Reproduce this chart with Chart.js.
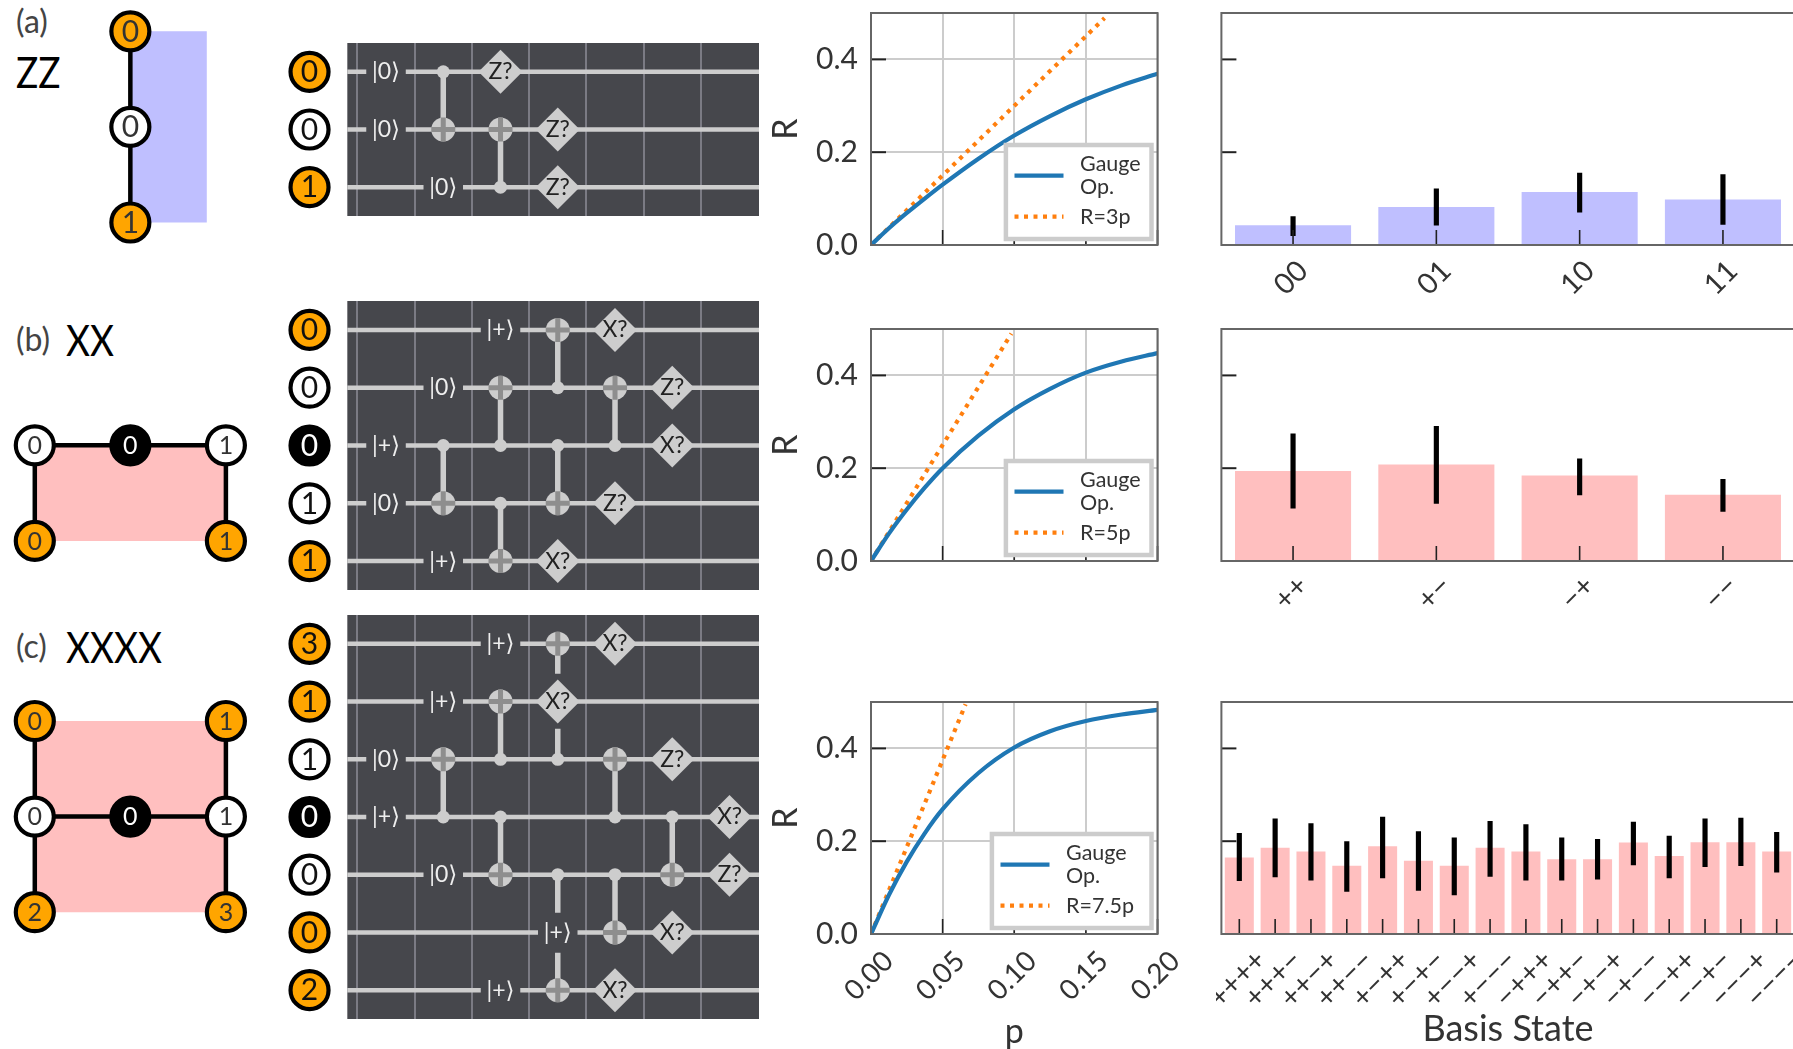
<!DOCTYPE html>
<html>
<head>
<meta charset="utf-8">
<script src="https://cdn.jsdelivr.net/npm/chart.js@4"></script>
<style>
  html, body { margin: 0; background: #fff; overflow: hidden; width: 1793px; height: 1049px; }
  canvas { position: absolute; }
  .tag { position: absolute; font-family: Lato, "DejaVu Sans", sans-serif; white-space: nowrap; line-height: 1; transform-origin: left top; }
  .tag.small { font-size: 32px; color: #444; }
  .tag.big { font-size: 42px; color: #000; transform: scaleX(0.88); }
</style>
</head>
<body>
<div class="tag small" style="left:16px;top:5px">(a)</div>
<div class="tag big" style="left:16px;top:51px">ZZ</div>
<div class="tag small" style="left:16px;top:323px">(b)</div>
<div class="tag big" style="left:66px;top:319px">XX</div>
<div class="tag small" style="left:16px;top:630px">(c)</div>
<div class="tag big" style="left:66px;top:626px">XXXX</div>
<script>
// ---- R versus p curves
const pSamples = [0, 0.0125, 0.025, 0.0375, 0.05, 0.075, 0.1, 0.125, 0.15, 0.175, 0.2];
const zzGauge = [0, 0.036, 0.069, 0.1, 0.13, 0.186, 0.236, 0.278, 0.314, 0.344, 0.369];
const xxGauge = [0, 0.059, 0.111, 0.158, 0.2, 0.27, 0.327, 0.371, 0.406, 0.43, 0.448];
const xxxxGauge = [0, 0.084, 0.156, 0.217, 0.269, 0.347, 0.402, 0.437, 0.459, 0.473, 0.483];
const zzLineP = [0, 0.163];
const zzLineR = [0, 0.489];
const xxLineP = [0, 0.098];
const xxLineR = [0, 0.49];
const xxxxLineP = [0, 0.066];
const xxxxLineR = [0, 0.495];

// ---- basis state bars
const zzStates = ["00", "01", "10", "11"];
const zzBars = [0.0425, 0.082, 0.114, 0.098];
const zzErrLow = [0.02, 0.0425, 0.071, 0.0446];
const zzErrHigh = [0.061, 0.121, 0.155, 0.152];

const xxStates = ["++", "+−", "−+", "−−"];
const xxBars = [0.194, 0.208, 0.184, 0.143];
const xxErrLow = [0.114, 0.124, 0.1425, 0.107];
const xxErrHigh = [0.274, 0.29, 0.22, 0.176];

const xxxxStates = ["++++", "+++−", "++−+", "++−−", "+−++", "+−+−", "+−−+", "+−−−",
  "−+++", "−++−", "−+−+", "−+−−", "−−++", "−−+−", "−−−+", "−−−−"];
const xxxxBars = [0.165, 0.186, 0.178, 0.147, 0.189, 0.158, 0.147, 0.186,
  0.178, 0.161, 0.161, 0.197, 0.168, 0.198, 0.198, 0.178];
const xxxxErrLow = [0.115, 0.123, 0.116, 0.092, 0.121, 0.094, 0.084, 0.124,
  0.116, 0.116, 0.118, 0.149, 0.121, 0.145, 0.147, 0.133];
const xxxxErrHigh = [0.217, 0.248, 0.238, 0.199, 0.252, 0.221, 0.207, 0.243,
  0.236, 0.207, 0.204, 0.241, 0.211, 0.248, 0.25, 0.219];

// ---- circuits: col / wire are gate grid indices
const zzQubits = [["0", "data"], ["0", "anc"], ["1", "data"]];
const zzPrep = [[0, 0, "|0⟩"], [1, 0, "|0⟩"], [2, 1, "|0⟩"]];
const zzCnots = [[1, 0, 1], [2, 2, 1]];
const zzMeasure = [[0, 2, "Z?"], [1, 3, "Z?"], [2, 3, "Z?"]];

const xxQubits = [["0", "data"], ["0", "anc"], ["0", "syn"], ["1", "anc"], ["1", "data"]];
const xxPrep = [[0, 2, "|+⟩"], [1, 1, "|0⟩"], [2, 0, "|+⟩"], [3, 0, "|0⟩"], [4, 1, "|+⟩"]];
const xxCnots = [[1, 2, 3], [2, 2, 1], [2, 3, 4], [3, 1, 0], [3, 2, 3], [4, 2, 1]];
const xxMeasure = [[4, 3, "X?"], [0, 4, "X?"], [3, 4, "Z?"], [1, 5, "Z?"], [2, 5, "X?"]];

const xxxxQubits = [["3", "data"], ["1", "data"], ["1", "anc"], ["0", "syn"], ["0", "anc"], ["0", "data"], ["2", "data"]];
const xxxxPrep = [[0, 2, "|+⟩"], [1, 1, "|+⟩"], [2, 0, "|0⟩"], [3, 0, "|+⟩"], [4, 1, "|0⟩"], [5, 3, "|+⟩"], [6, 2, "|+⟩"]];
const xxxxCnots = [[1, 3, 2], [2, 2, 1], [2, 3, 4], [3, 2, 0, [1.47, 0.52]], [3, 4, 6, [4.66, 5.35]], [4, 3, 2], [4, 4, 5], [5, 3, 4]];
const xxxxMeasure = [[1, 3, "X?"], [0, 4, "X?"], [6, 4, "X?"], [2, 5, "Z?"], [5, 5, "X?"], [3, 6, "X?"], [4, 6, "Z?"]];

const gridEdges = [-0.5, 0.5, 1.5, 2.5, 3.5, 4.5, 5.5];

// ---- lattices: col, row, label, kind
const zzNodes = [[1, 0, "0", "data"], [1, 1, "0", "anc"], [1, 2, "1", "data"]];
const zzEdges = [[1, 0, 1, 2]];
const zzShade = [[1, 0], [1.8, 0], [1.8, 2], [1, 2]];

const xxNodes = [[0, 0, "0", "anc"], [1, 0, "0", "syn"], [2, 0, "1", "anc"], [0, 1, "0", "data"], [2, 1, "1", "data"]];
const xxEdges = [[0, 0, 2, 0], [0, 0, 0, 1], [2, 0, 2, 1]];
const xxShade = [[0, 0], [2, 0], [2, 1], [0, 1]];

const xxxxNodes = [[0, 0, "0", "data"], [2, 0, "1", "data"], [0, 1, "0", "anc"], [1, 1, "0", "syn"], [2, 1, "1", "anc"], [0, 2, "2", "data"], [2, 2, "3", "data"]];
const xxxxEdges = [[0, 0, 0, 2], [2, 0, 2, 2], [0, 1, 2, 1]];
const xxxxShade = [[0, 0], [2, 0], [2, 2], [0, 2]];

const FONT = 'Lato, "DejaVu Sans", sans-serif';
const BLUE_BAR = "#bfbfff";
const RED_BAR = "#ffbfbf";
const WIRE = "#cdcdcd";
const nodeFill = { data: "#ffa500", anc: "#ffffff", syn: "#000000" };
const nodeInk = { data: "#111", anc: "#111", syn: "#fff" };
// Chart.js insets the plot by half the biggest point; this margin swallows that
const SLACK = 30;

function mount(left, top, width, height) {
  const c = document.createElement("canvas");
  c.width = width;
  c.height = height;
  c.style.left = left + "px";
  c.style.top = top + "px";
  c.style.width = width + "px";
  c.style.height = height + "px";
  document.body.appendChild(c);
  return c;
}

// null points break a line dataset into separate segments
function segments(list) {
  const out = [];
  list.forEach(([x1, y1, x2, y2]) => {
    out.push({ x: x1, y: y1 }, { x: x2, y: y2 }, { x: null, y: null });
  });
  return out;
}

// matplotlib-style closed box around the axes, ticks pointing inward
const framePlugin = {
  id: "frame",
  afterDatasetsDraw(chart) {
    const { ctx, chartArea: a, scales } = chart;
    ctx.save();
    ctx.strokeStyle = "#222";
    ctx.lineWidth = 1.6;
    scales.x.ticks.forEach((t, i) => {
      const px = scales.x.getPixelForTick(i);
      ctx.beginPath();
      ctx.moveTo(px, a.bottom);
      ctx.lineTo(px, a.bottom - 15);
      ctx.stroke();
    });
    ctx.lineWidth = 2;
    scales.y.ticks.forEach((t, i) => {
      const py = scales.y.getPixelForTick(i);
      ctx.beginPath();
      ctx.moveTo(a.left, py);
      ctx.lineTo(a.left + 15, py);
      ctx.stroke();
    });
    ctx.strokeStyle = "#666";
    ctx.lineWidth = 2;
    ctx.strokeRect(a.left, a.top, a.right - a.left, a.bottom - a.top);
    ctx.restore();
  },
};

// x tick labels rotated 45 degrees and centred on the tick
const slantPlugin = {
  id: "slantTicks",
  afterDraw(chart, args, opts) {
    if (!opts.offset) return;
    const { ctx, chartArea: a, scales } = chart;
    ctx.save();
    ctx.fillStyle = "#333";
    ctx.font = `${opts.size}px ${FONT}`;
    ctx.textAlign = "center";
    ctx.textBaseline = "middle";
    scales.x.ticks.forEach((t, i) => {
      ctx.save();
      ctx.translate(scales.x.getPixelForTick(i) - 2, a.bottom + opts.offset);
      ctx.rotate(-Math.PI / 4);
      ctx.fillText(t.label, 0, 0);
      ctx.restore();
    });
    ctx.restore();
  },
};

// legend box tucked into the lower right corner of the axes
const boxLegendPlugin = {
  id: "boxLegend",
  afterDraw(chart, args, opts) {
    const { ctx, chartArea: a } = chart;
    const left = a.right - 6 - opts.width;
    const top = a.bottom - 6 - 94;
    ctx.save();
    ctx.fillStyle = "#fff";
    ctx.fillRect(left, top, opts.width, 94);
    ctx.strokeStyle = "#ccc";
    ctx.lineWidth = 4.5;
    ctx.strokeRect(left, top, opts.width, 94);
    const gauge = chart.data.datasets[0];
    const fit = chart.data.datasets[1];
    const hx = left + 8.6;
    ctx.strokeStyle = gauge.borderColor;
    ctx.lineWidth = gauge.borderWidth;
    ctx.beginPath();
    ctx.moveTo(hx, top + 30.7);
    ctx.lineTo(hx + 49, top + 30.7);
    ctx.stroke();
    ctx.strokeStyle = fit.borderColor;
    ctx.setLineDash(fit.borderDash);
    ctx.beginPath();
    ctx.moveTo(hx, top + 71.7);
    ctx.lineTo(hx + 49, top + 71.7);
    ctx.stroke();
    ctx.setLineDash([]);
    ctx.fillStyle = "#333";
    ctx.font = `21.5px ${FONT}`;
    ctx.textBaseline = "middle";
    const tx = hx + 65.5;
    const words = gauge.label.split(" ");
    ctx.fillText(words[0], tx, top + 19);
    ctx.fillText(words[1], tx, top + 42);
    ctx.fillText(fit.label, tx, top + 72.5);
    ctx.restore();
  },
};

function lineChart(top, bottomSpace, gauge, lineP, lineR, legendLabel, legendWidth, showX) {
  const canvasLeft = 762;
  const plotHeight = 231.7;
  const headroom = 35;
  const c = mount(canvasLeft, top - headroom, 428, Math.round(headroom + plotHeight + bottomSpace));
  new Chart(c, {
    type: "scatter",
    data: {
      datasets: [
        {
          label: "Gauge Op.",
          data: pSamples.map((p, i) => ({ x: p, y: gauge[i] })),
          showLine: true, borderColor: "#1f77b4", borderWidth: 4.2, pointRadius: 0,
          cubicInterpolationMode: "monotone",
        },
        {
          label: legendLabel,
          data: lineP.map((p, i) => ({ x: p, y: lineR[i] })),
          showLine: true, borderColor: "#ff7f0e", borderWidth: 4.2, borderDash: [4, 5.5], pointRadius: 0,
        },
      ],
    },
    options: {
      responsive: false,
      animation: false,
      layout: { padding: { top: headroom, right: 32.5, left: 0, bottom: 0 } },
      plugins: {
        legend: { display: false },
        tooltip: { enabled: false },
        slantTicks: { offset: showX ? 42 : 0, size: 28 },
        boxLegend: { width: legendWidth },
      },
      scales: {
        x: {
          type: "linear", min: 0, max: 0.2,
          border: { display: false },
          grid: { color: "#ccc", lineWidth: 2, drawTicks: false },
          ticks: { display: false, stepSize: 0.05, callback: (v) => v.toFixed(2) },
          title: { display: showX, text: "p", color: "#333", font: { family: FONT, size: 34 }, padding: 0 },
          afterFit: (s) => { s.height = bottomSpace; },
        },
        y: {
          min: 0, max: 0.5,
          border: { display: false },
          grid: { color: "#ccc", lineWidth: 2, drawTicks: false },
          ticks: {
            stepSize: 0.2, includeBounds: false, padding: 13, color: "#333",
            font: { family: FONT, size: 30 },
            callback: (v) => v.toFixed(1),
          },
          title: { display: true, text: "R", color: "#333", font: { family: FONT, size: 34 }, padding: { top: 4, bottom: 0 } },
          afterFit: (s) => { s.width = 109; },
        },
      },
    },
    plugins: [framePlugin, slantPlugin, boxLegendPlugin],
  });
}

function barChart(top, bottomSpace, states, bars, errLow, errHigh, color, labelOffset, axisTitle) {
  const c = mount(1216, top - 5, 584, Math.round(5 + 231.7 + bottomSpace));
  new Chart(c, {
    type: "bar",
    data: {
      labels: states,
      datasets: [
        {
          data: errLow.map((lo, i) => [lo, errHigh[i]]),
          backgroundColor: "#000", barThickness: 4.5, grouped: false, order: 0,
        },
        {
          data: bars,
          backgroundColor: color, barPercentage: 0.81, categoryPercentage: 1, grouped: false, order: 1,
        },
      ],
    },
    options: {
      responsive: false,
      animation: false,
      layout: { padding: { top: 5, right: 5.4, left: 0, bottom: 0 } },
      plugins: {
        legend: { display: false },
        tooltip: { enabled: false },
        slantTicks: { offset: labelOffset, size: 29 },
      },
      scales: {
        x: {
          border: { display: false },
          grid: { display: false, drawTicks: false },
          ticks: { display: false, autoSkip: false },
          title: { display: !!axisTitle, text: axisTitle, color: "#333", font: { family: FONT, size: 36 }, padding: 0 },
          afterFit: (s) => { s.height = bottomSpace; },
        },
        y: {
          min: 0, max: 0.5,
          border: { display: false },
          grid: { display: false, drawTicks: false },
          ticks: { display: false, stepSize: 0.2, includeBounds: false },
          afterFit: (s) => { s.width = 5.4; },
        },
      },
    },
    plugins: [framePlugin, slantPlugin],
  });
}

const PANEL_START = -0.676;
const PANEL_END = 6.515;
const QUBIT_COL = -1.336;
const COL_PX = 57.25;

// dark panel behind the gates; the qubit circles sit left of it on the same axes
const panelPlugin = {
  id: "panel",
  beforeDraw(chart) {
    const { ctx, chartArea: a, scales } = chart;
    const x = scales.x.getPixelForValue(PANEL_START);
    ctx.save();
    ctx.fillStyle = "#46474c";
    ctx.fillRect(x, a.top, a.right - x, a.bottom - a.top);
    ctx.restore();
  },
};

// text stored on a dataset (dataset.texts = [{x, y, text}]) is painted over the marks
const gateTextPlugin = {
  id: "gateText",
  afterDatasetsDraw(chart) {
    const { ctx, scales } = chart;
    chart.data.datasets.forEach((ds) => {
      if (!ds.texts) return;
      ctx.save();
      ctx.font = `${ds.textSize}px ${FONT}`;
      ctx.textAlign = "center";
      ctx.textBaseline = "middle";
      ds.texts.forEach((t) => {
        ctx.fillStyle = t.ink;
        ctx.fillText(t.text, scales.x.getPixelForValue(t.x), scales.y.getPixelForValue(t.y));
      });
      ctx.restore();
    });
  },
};

function circuitChart(top, qubits, prep, cnots, measure) {
  const rows = qubits.length;
  const height = Math.round(rows * 57.7);
  const width = 474;
  const c = mount(285 - SLACK, top - SLACK, width + 2 * SLACK, height + 2 * SLACK);
  const xMin = PANEL_END - width / COL_PX;

  // wires, each cut around its preparation label
  const wireSegs = [];
  qubits.forEach((q, w) => {
    const p = prep.find((e) => e[0] === w);
    wireSegs.push([PANEL_START, w, p[1] - 0.345, w], [p[1] + 0.345, w, PANEL_END, w]);
  });
  // vertical links; a gap entry leaves room for a gate on the way
  const linkSegs = [];
  cnots.forEach(([col, ctrl, targ, gap]) => {
    if (gap) {
      linkSegs.push([col, ctrl, col, gap[0]], [col, gap[1], col, targ]);
    } else {
      linkSegs.push([col, ctrl, col, targ]);
    }
  });

  new Chart(c, {
    type: "scatter",
    data: {
      datasets: [
        {
          data: qubits.map((q, w) => ({ x: QUBIT_COL, y: w })),
          pointRadius: 19, pointBorderWidth: 4.2, pointBorderColor: "#000",
          pointBackgroundColor: qubits.map((q) => nodeFill[q[1]]),
          textSize: 30,
          texts: qubits.map((q, w) => ({ x: QUBIT_COL, y: w + 0.01, text: q[0], ink: nodeInk[q[1]] })),
          order: 0,
        },
        {
          data: measure.map(([w, col]) => ({ x: col, y: w })),
          pointStyle: "rectRot", pointRadius: 22, pointBackgroundColor: WIRE, pointBorderWidth: 0,
          textSize: 23,
          texts: measure.map(([w, col, text]) => ({ x: col, y: w, text, ink: "#222" })),
          order: 1,
        },
        {
          data: cnots.map(([col, , targ]) => ({ x: col, y: targ })),
          pointStyle: "cross", pointRadius: 12, pointBorderColor: "#8e8e8e", pointBorderWidth: 5,
          pointBackgroundColor: "transparent",
          order: 2,
        },
        {
          data: cnots.map(([col, , targ]) => ({ x: col, y: targ })),
          pointRadius: 12, pointBackgroundColor: WIRE, pointBorderWidth: 0,
          order: 3,
        },
        {
          data: cnots.map(([col, ctrl]) => ({ x: col, y: ctrl })),
          pointRadius: 6.5, pointBackgroundColor: WIRE, pointBorderWidth: 0,
          order: 4,
        },
        {
          data: segments(linkSegs),
          showLine: true, borderColor: WIRE, borderWidth: 5.5, pointRadius: 0,
          textSize: 23,
          texts: prep.map(([w, col, text]) => ({ x: col, y: w, text, ink: "#eee" })),
          order: 5,
        },
        {
          data: segments(wireSegs),
          showLine: true, borderColor: WIRE, borderWidth: 4.5, pointRadius: 0,
          order: 6,
        },
      ],
    },
    options: {
      responsive: false,
      animation: false,
      layout: { padding: SLACK },
      plugins: { legend: { display: false }, tooltip: { enabled: false } },
      scales: {
        x: {
          type: "linear", min: xMin, max: PANEL_END,
          border: { display: false },
          grid: { color: "#7b7b84", lineWidth: 2, drawTicks: false },
          ticks: { display: false },
          afterBuildTicks: (s) => { s.ticks = gridEdges.map((value) => ({ value })); },
          afterFit: (s) => { s.height = 0; },
        },
        y: { display: false, reverse: true, min: -0.5, max: rows - 0.5 },
      },
    },
    plugins: [panelPlugin, gateTextPlugin],
  });
}

function latticeChart(top, height, row0, nodes, edges, shade, shadeColor, digitSize) {
  const c = mount(-SLACK, top - SLACK, 260 + 2 * SLACK, height + 2 * SLACK);
  const colPx = 95.55;
  const rowPx = 95.6;
  const ds = [
    {
      data: nodes.map(([x, y]) => ({ x, y })),
      pointRadius: 19, pointBorderWidth: 4.2, pointBorderColor: "#000",
      pointBackgroundColor: nodes.map((n) => nodeFill[n[3]]),
      textSize: digitSize,
      texts: nodes.map(([x, y, text, kind]) => ({ x, y: y + 0.008, text, ink: kind === "syn" ? "#fff" : "#333" })),
      order: 0,
    },
    {
      data: segments(edges),
      showLine: true, borderColor: "#000", borderWidth: 4.5, pointRadius: 0,
      order: 1,
    },
    {
      data: shade.concat([shade[0]]).map(([x, y]) => ({ x, y })),
      showLine: true, fill: "shape", backgroundColor: shadeColor, borderWidth: 0, pointRadius: 0,
      order: 2,
    },
  ];
  new Chart(c, {
    type: "scatter",
    data: { datasets: ds },
    options: {
      responsive: false,
      animation: false,
      layout: { padding: SLACK },
      plugins: { legend: { display: false }, tooltip: { enabled: false } },
      scales: {
        x: { display: false, min: -34.8 / colPx, max: (260 - 34.8) / colPx },
        y: { display: false, reverse: true, min: (top - row0) / rowPx, max: (top + height - row0) / rowPx },
      },
    },
    plugins: [gateTextPlugin],
  });
}

latticeChart(5, 245, 31.3, zzNodes, zzEdges, zzShade, BLUE_BAR, 30);
latticeChart(415, 160, 445.3, xxNodes, xxEdges, xxShade, RED_BAR, 25);
latticeChart(690, 255, 721, xxxxNodes, xxxxEdges, xxxxShade, RED_BAR, 25);

circuitChart(42.7, zzQubits, zzPrep, zzCnots, zzMeasure);
circuitChart(301.3, xxQubits, xxPrep, xxCnots, xxMeasure);
circuitChart(615.3, xxxxQubits, xxxxPrep, xxxxCnots, xxxxMeasure);

lineChart(13.3, 35, zzGauge, zzLineP, zzLineR, "R=3p", 145.6, false);
lineChart(329.3, 35, xxGauge, xxLineP, xxLineR, "R=5p", 145.6, false);
lineChart(701.7, 118, xxxxGauge, xxxxLineP, xxxxLineR, "R=7.5p", 159.6, true);

barChart(13.3, 60, zzStates, zzBars, zzErrLow, zzErrHigh, BLUE_BAR, 33, "");
barChart(329.3, 60, xxStates, xxBars, xxErrLow, xxErrHigh, RED_BAR, 32, "");
barChart(701.7, 117, xxxxStates, xxxxBars, xxxxErrLow, xxxxErrHigh, RED_BAR, 45, "Basis State");
</script>
</body>
</html>
